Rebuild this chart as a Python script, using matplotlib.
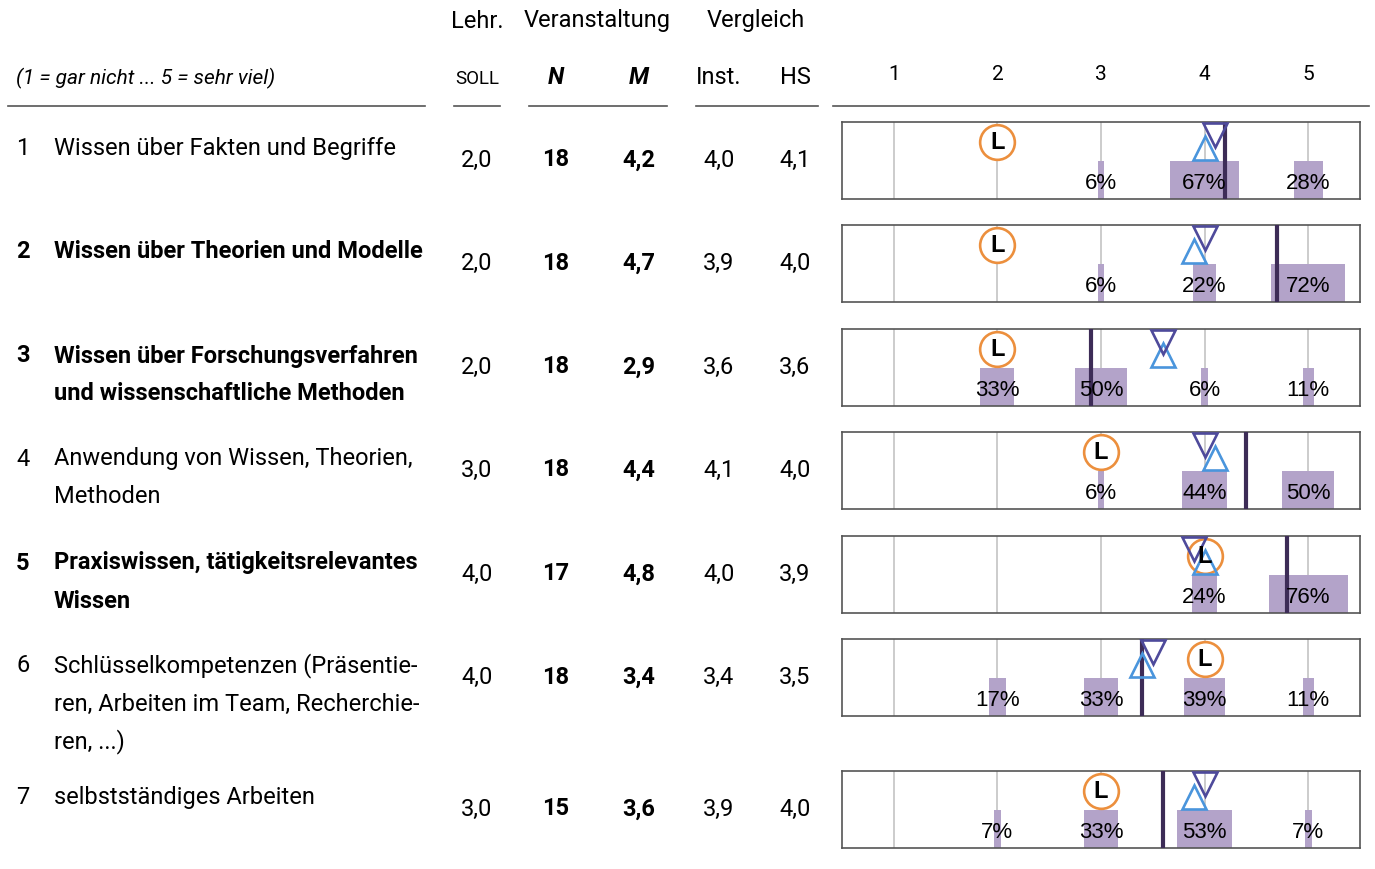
import matplotlib
matplotlib.use("Agg")
import matplotlib.pyplot as plt
from matplotlib.lines import Line2D

plt.rcParams['font.family'] = ['Roboto', 'DejaVu Sans']

W, H = 1375, 870

# data
labels = [
    "Wissen über Fakten und Begriffe",
    "Wissen über Theorien und Modelle",
    "Wissen über Forschungsverfahren\nund wissenschaftliche Methoden",
    "Anwendung von Wissen, Theorien,\nMethoden",
    "Praxiswissen, tätigkeitsrelevantes\nWissen",
    "Schlüsselkompetenzen (Präsentie-\nren, Arbeiten im Team, Recherchie-\nren, ...)",
    "selbstständiges Arbeiten",
]
bold_rows = [False, True, True, False, True, False, False]
soll = [2.0, 2.0, 2.0, 3.0, 4.0, 4.0, 3.0]
n_resp = [18, 18, 18, 18, 17, 18, 15]
mean = [4.2, 4.7, 2.9, 4.4, 4.8, 3.4, 3.6]
inst = [4.0, 3.9, 3.6, 4.1, 4.0, 3.4, 3.9]
hs = [4.1, 4.0, 3.6, 4.0, 3.9, 3.5, 4.0]
scale = [1, 2, 3, 4, 5]
pct = [
    [0, 0, 6, 67, 28],
    [0, 0, 6, 22, 72],
    [0, 33, 50, 6, 11],
    [0, 0, 6, 44, 50],
    [0, 0, 0, 24, 76],
    [0, 17, 33, 39, 11],
    [0, 7, 33, 53, 7],
]

# layout (pixels)
row_top = [123, 226, 330, 433, 537, 640, 772]
panel_h = 77
panel_x0, panel_x1 = 842, 1360
col_x = [477, 556, 639, 719, 795]
fs = 17

c_bar = '#b3a3c9'
c_mean = '#3d2c57'
c_hs = '#4e4a9b'
c_inst = '#4a95dc'
c_soll = '#ec8f3d'


def fx(x):
    return x / W


def fy(y):
    return 1 - y / H


def fmt(v):
    return f"{v:.1f}".replace(".", ",")


fig = plt.figure(figsize=(W / 100, H / 100), dpi=100)

# header
fig.text(fx(477), fy(21), "Lehr.", ha='center', va='center', fontsize=fs)
fig.text(fx(597), fy(21), "Veranstaltung", ha='center', va='center', fontsize=fs)
fig.text(fx(756), fy(21), "Vergleich", ha='center', va='center', fontsize=fs)
fig.text(fx(16), fy(78), "(1 = gar nicht ... 5 = sehr viel)", ha='left', va='center',
         fontsize=15, style='italic')
fig.text(fx(477), fy(79), "SOLL", ha='center', va='center', fontsize=13.5)
fig.text(fx(556), fy(78), "N", ha='center', va='center', fontsize=fs, weight='bold', style='italic')
fig.text(fx(639), fy(78), "M", ha='center', va='center', fontsize=fs, weight='bold', style='italic')
fig.text(fx(719), fy(78), "Inst.", ha='center', va='center', fontsize=fs)
fig.text(fx(795), fy(78), "HS", ha='center', va='center', fontsize=fs)

for x0, x1 in [(8, 425), (454, 500), (529, 667), (696, 818), (833, 1369)]:
    fig.add_artist(Line2D([fx(x0), fx(x1)], [fy(107), fy(107)], color='#555555', lw=1.2))

hax = fig.add_axes([fx(panel_x0), fy(90), fx(panel_x1 - panel_x0), 30 / H])
hax.set_xlim(0.5, 5.5)
hax.set_ylim(0, 1)
hax.axis('off')
for s in scale:
    hax.text(s, 0.5, str(s), ha='center', va='center', fontsize=15)

for i, top in enumerate(row_top):
    yc = top + 37
    weight = 'bold' if bold_rows[i] else 'normal'
    fig.text(fx(16), fy(yc - 11), str(i + 1), ha='left', va='center', fontsize=fs, weight=weight)
    for k, line in enumerate(labels[i].split("\n")):
        fig.text(fx(54), fy(yc - 11 + 38 * k), line, ha='left', va='center', fontsize=fs, weight=weight)
    vals = [fmt(soll[i]), str(n_resp[i]), fmt(mean[i]), fmt(inst[i]), fmt(hs[i])]
    for j, v in enumerate(vals):
        fig.text(fx(col_x[j]), fy(yc), v, ha='center', va='center', fontsize=fs,
                 weight='bold' if j in (1, 2) else 'normal')

    ax = fig.add_axes([fx(panel_x0), fy(top + panel_h), fx(panel_x1 - panel_x0), panel_h / H])
    ax.set_xlim(0.5, 5.5)
    ax.set_ylim(0, 1)
    ax.set_xticks([])
    ax.set_yticks([])
    for sp in ax.spines.values():
        sp.set_color('#555555')
        sp.set_linewidth(1.2)
    for s in scale:
        ax.axvline(s, color='#c4c4c4', lw=1.2, zorder=0)
    widths = [p / 100 for p in pct[i]]
    ax.bar(scale, [0.49] * 5, width=widths, bottom=0, color=c_bar, zorder=1)
    for s, p in zip(scale, pct[i]):
        if p > 0:
            ax.text(s, 0.22, f"{p}%", ha='center', va='center', fontsize=16,
                    family='Liberation Sans', zorder=5)
    ax.axvline(mean[i], color=c_mean, lw=3, zorder=3)
    ax.plot([soll[i]], [0.74], marker='o', ms=25, mfc='white', mec=c_soll, mew=1.9, zorder=4)
    ax.text(soll[i], 0.745, "L", ha='center', va='center', fontsize=17, weight='bold',
            family='Liberation Sans', zorder=5)
    ax.plot([inst[i]], [0.66], marker='^', ms=17, mfc='none', mec=c_inst, mew=1.9, zorder=4)
    ax.plot([hs[i]], [0.83], marker='v', ms=17, mfc='none', mec=c_hs, mew=1.9, zorder=4)

fig.savefig("out.png", dpi=100)
